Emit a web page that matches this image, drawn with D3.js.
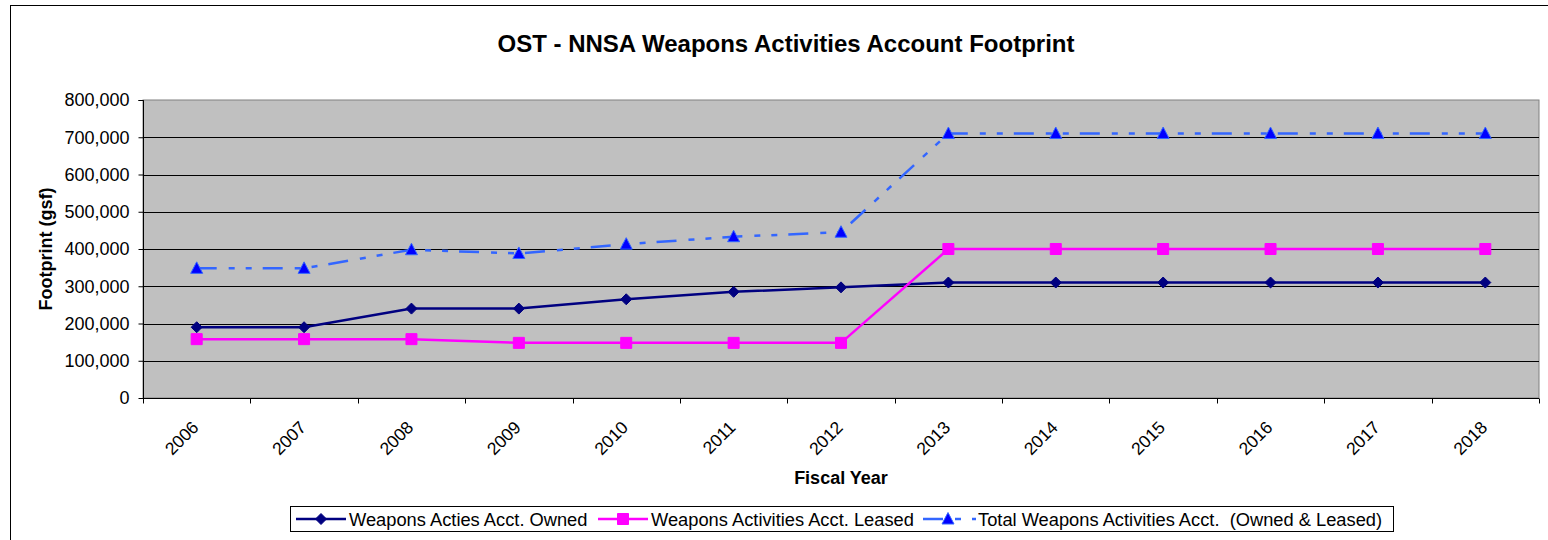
<!DOCTYPE html>
<html>
<head>
<meta charset="utf-8">
<script src="https://cdn.jsdelivr.net/npm/d3@7"></script>
<style>
  body { margin: 0; background: #fff; }
  svg { display: block; font-family: "Liberation Sans", Arial, sans-serif; }
  .legend-text { white-space: pre; }
</style>
</head>
<body>
<svg id="chart" width="1548" height="540"></svg>
<script>
// Data
const years = ["2006", "2007", "2008", "2009", "2010", "2011", "2012", "2013", "2014", "2015", "2016", "2017", "2018"];
const owned = [190000, 190000, 240000, 240000, 265000, 285000, 297000, 310000, 310000, 310000, 310000, 310000, 310000];
const leased = [158000, 158000, 158000, 148000, 148000, 148000, 148000, 400000, 400000, 400000, 400000, 400000, 400000];
const total = [348000, 348000, 398000, 388000, 413000, 433000, 445000, 710000, 710000, 710000, 710000, 710000, 710000];
const yTicks = [0, 100000, 200000, 300000, 400000, 500000, 600000, 700000, 800000];

const svg = d3.select("#chart");

// outer frame
svg.append("rect")
  .attr("x", 10.5).attr("y", 5.5)
  .attr("width", 1545).attr("height", 545)
  .attr("fill", "#fff").attr("stroke", "#000").attr("stroke-width", 1);

const plot = { left: 143, right: 1539, top: 100, bottom: 398 };

const x = d3.scaleBand().domain(years).range([plot.left, plot.right]);
const y = d3.scaleLinear().domain([0, 800000]).range([plot.bottom, plot.top]);

// plot background
svg.append("rect")
  .attr("x", plot.left).attr("y", plot.top)
  .attr("width", plot.right - plot.left).attr("height", plot.bottom - plot.top)
  .attr("fill", "#C0C0C0").attr("stroke", "#808080");

// gridlines
svg.append("g")
  .selectAll("line")
  .data(yTicks.filter(d => d > 0 && d < 800000))
  .enter().append("line")
  .attr("x1", plot.left).attr("x2", plot.right)
  .attr("y1", d => Math.round(y(d)) + 0.5).attr("y2", d => Math.round(y(d)) + 0.5)
  .attr("stroke", "#000").attr("stroke-width", 1);

// y axis
const yAxis = svg.append("g")
  .attr("transform", `translate(${plot.left + 0.5},0)`)
  .call(d3.axisLeft(y).tickValues(yTicks).tickSize(5).tickPadding(9)
    .tickFormat(d3.format(",")));
yAxis.selectAll("text").attr("font-size", 18).attr("fill", "#000")
  .attr("font-family", "Liberation Sans, Arial, sans-serif");
yAxis.selectAll("line").attr("stroke", "#000");
yAxis.select(".domain").attr("stroke", "#000").attr("d", `M-5,${plot.top + 0.5}H0V${plot.bottom + 0.5}`);

// x axis: ticks at category boundaries
const xAxis = svg.append("g").attr("transform", `translate(0,${plot.bottom + 0.5})`);
xAxis.append("line")
  .attr("x1", plot.left).attr("x2", plot.right)
  .attr("stroke", "#000");
xAxis.selectAll("line.tick")
  .data(years.concat(["end"]))
  .enter().append("line")
  .attr("class", "tick")
  .attr("x1", (d, i) => Math.round(plot.left + i * x.step()) + 0.5)
  .attr("x2", (d, i) => Math.round(plot.left + i * x.step()) + 0.5)
  .attr("y1", 0).attr("y2", 5)
  .attr("stroke", "#000");
xAxis.selectAll("text")
  .data(years)
  .enter().append("text")
  .attr("transform", d => `translate(${x(d) + x.bandwidth() / 2 + 3},${30}) rotate(-45)`)
  .attr("text-anchor", "end")
  .attr("font-size", 17.5)
  .attr("fill", "#000")
  .text(d => d);

// titles
svg.append("text")
  .attr("x", 786).attr("y", 52)
  .attr("text-anchor", "middle")
  .attr("font-size", 24).attr("font-weight", "bold")
  .text("OST - NNSA Weapons Activities Account Footprint");

svg.append("text")
  .attr("x", 841).attr("y", 484)
  .attr("text-anchor", "middle")
  .attr("font-size", 18).attr("font-weight", "bold")
  .text("Fiscal Year");

svg.append("text")
  .attr("transform", `translate(52,${(plot.top + plot.bottom) / 2}) rotate(-90)`)
  .attr("text-anchor", "middle")
  .attr("font-size", 18).attr("font-weight", "bold")
  .text("Footprint (gsf)");

// series
const cx = d => x(d) + x.bandwidth() / 2;
const series = [
  { name: "Weapons Acties Acct. Owned", values: owned, color: "#000080", dash: null, marker: "diamond", mfill: "#000080", mstroke: "#000080" },
  { name: "Weapons Activities Acct. Leased", values: leased, color: "#FF00FF", dash: null, marker: "square", mfill: "#FF00FF", mstroke: "#FF00FF" },
  { name: "Total Weapons Activities Acct.  (Owned & Leased)", values: total, color: "#3366FF", dash: "20,12,6,11,6,11", marker: "triangle", mfill: "#0000FF", mstroke: "#3366FF" }
];

const line = d3.line().x((d, i) => cx(years[i])).y(d => y(d));

function markerPath(type) {
  if (type === "diamond") return "M0,-5.5L5.5,0L0,5.5L-5.5,0Z";
  if (type === "square") return "M-5.5,-5.5H5.5V5.5H-5.5Z";
  return "M0,-6.5L6,5H-6Z";
}

series.forEach(s => {
  svg.append("path")
    .datum(s.values)
    .attr("d", line)
    .attr("fill", "none")
    .attr("stroke", s.color)
    .attr("stroke-width", 2.5)
    .attr("stroke-dasharray", s.dash);
});

series.forEach(s => {
  svg.append("g")
    .selectAll("path")
    .data(s.values)
    .enter().append("path")
    .attr("transform", (d, i) => `translate(${cx(years[i])},${y(d)})`)
    .attr("d", markerPath(s.marker))
    .attr("fill", s.mfill)
    .attr("stroke", s.mstroke)
    .attr("stroke-width", 1);
});

// legend
const legend = svg.append("g");
legend.append("rect")
  .attr("x", 290.5).attr("y", 506.5)
  .attr("width", 1103).attr("height", 25)
  .attr("fill", "#fff").attr("stroke", "#000");

const legendX = [296, 598, 923];
series.forEach((s, i) => {
  const g = legend.append("g").attr("transform", `translate(${legendX[i]},519)`);
  g.append("line")
    .attr("x1", 0).attr("x2", i === 2 ? 53 : 50)
    .attr("stroke", s.color).attr("stroke-width", 2.5)
    .attr("stroke-dasharray", s.dash);
  g.append("path")
    .attr("transform", "translate(25,0)")
    .attr("d", markerPath(s.marker))
    .attr("fill", s.mfill).attr("stroke", s.mstroke);
  g.append("text")
    .attr("class", "legend-text")
    .attr("x", i === 2 ? 55 : 53).attr("y", 6.5)
    .attr("font-size", 18.3)
    .text(s.name);
});
</script>
</body>
</html>
